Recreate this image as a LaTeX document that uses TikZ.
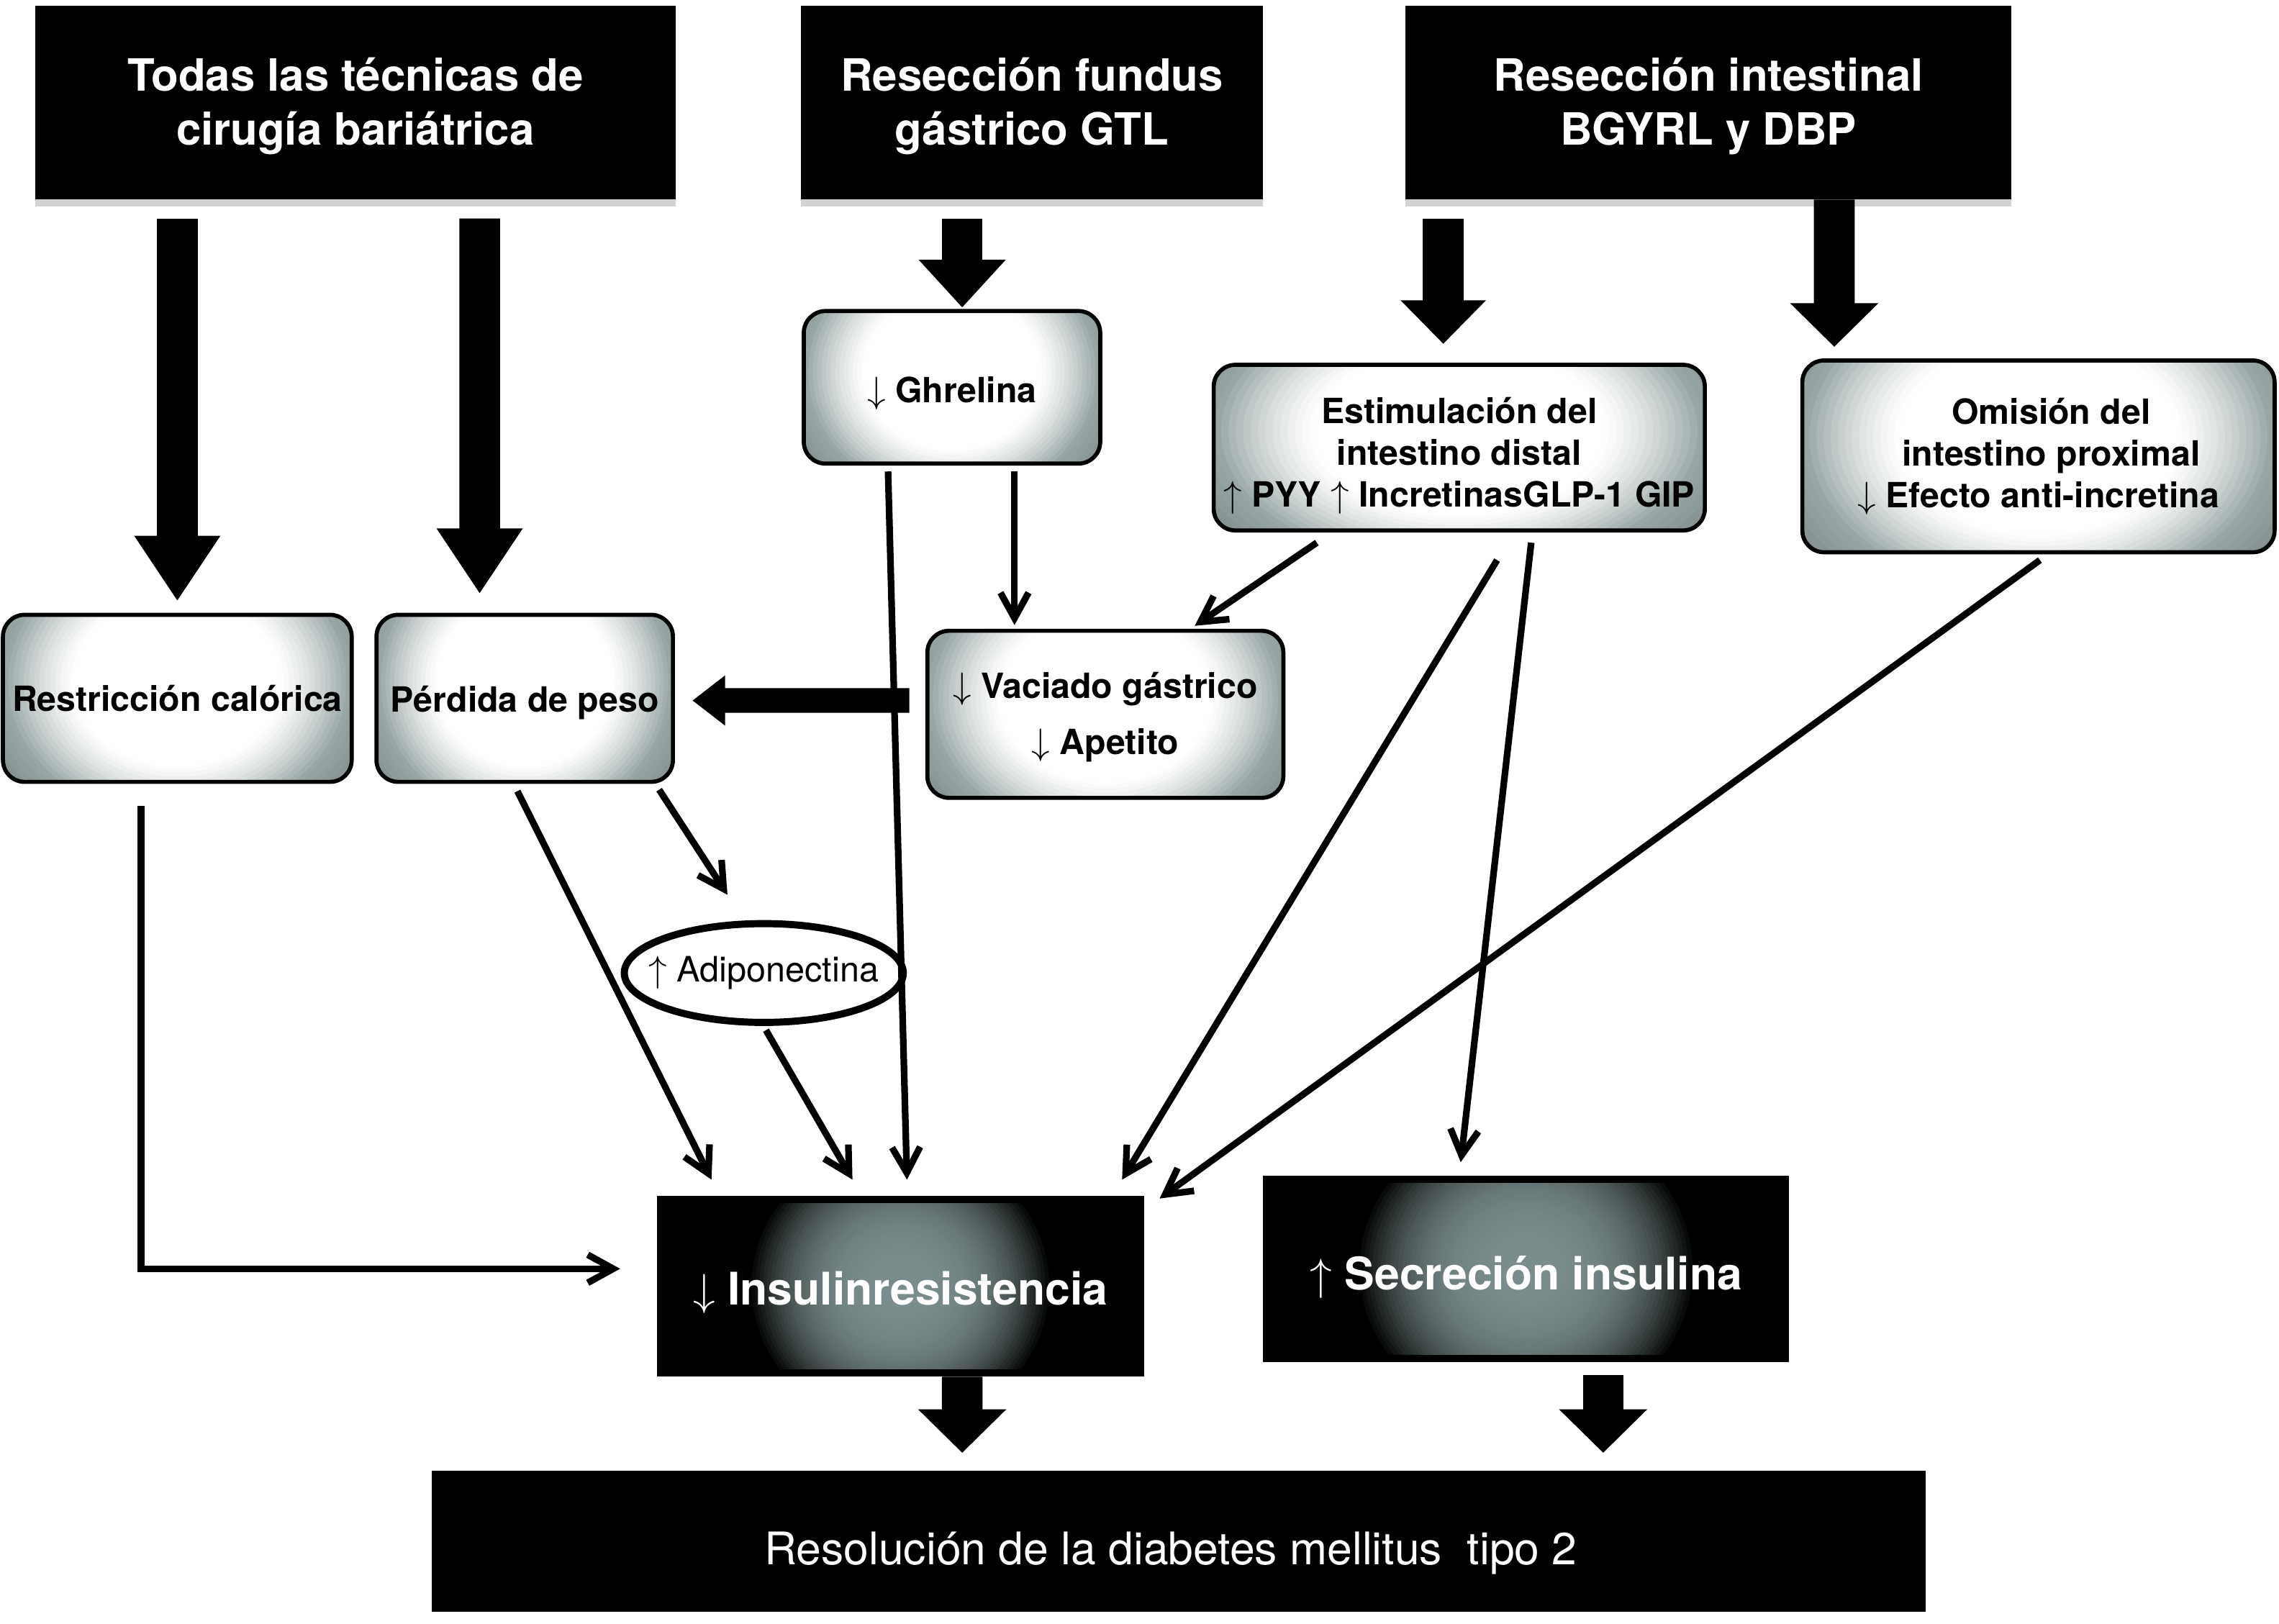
\documentclass[tikz,border=0pt]{standalone}
\usepackage{fontspec}
\setmainfont{TeX Gyre Heros}
\usetikzlibrary{arrows.meta,calc,shadows}
\definecolor{edgeg}{rgb}{0.60,0.65,0.65}
\definecolor{cornerg}{rgb}{0.48,0.53,0.53}
\definecolor{dgray}{rgb}{0.48,0.55,0.55}
\newcommand\hs[1]{\rule{0pt}{#1}}
\newcommand\lightfill[2]{%
  \fill[cornerg] (path picture bounding box.south west) rectangle (path picture bounding box.north east);
  \foreach \r in {1.40,1.36,...,1.01} {\pgfmathsetmacro\q{min(100,max(0,(\r-1)/0.3*100))}%
    \fill[cornerg!\q!edgeg] ([yshift=0.1*#2cm]path picture bounding box.center) ellipse [x radius=\r*#1*0.5cm, y radius=\r*#2*0.85cm];}
  \foreach \r in {1.00,0.97,...,0.56} {\pgfmathsetmacro\p{100*(max(0,(\r-0.6)/0.4))^1.3}%
    \fill[edgeg!\p!white] ([yshift=0.1*#2cm]path picture bounding box.center) ellipse [x radius=\r*#1*0.5cm, y radius=\r*#2*0.85cm];}
}
\newcommand\darkfill[2]{%
  \clip ([yshift=-0.1cm]path picture bounding box.north west) rectangle ([yshift=0.1cm]path picture bounding box.south east);
  \foreach \r in {1.00,0.975,...,0.02} {\pgfmathsetmacro\p{min(100,100*(\r)^3)}%
    \fill[black!\p!dgray] (path picture bounding box.center) ellipse [x radius=\r*#1, y radius=\r*#2];}
}
\tikzset{
  topbox/.style={fill=black, text=white, font=\bfseries\fontsize{17.4}{21}\selectfont, align=center, inner sep=0pt,
    drop shadow={shadow xshift=0pt, shadow yshift=-3pt, opacity=0.35}},
  lightbox/.style 2 args={draw=black, line width=1.6pt, rounded corners=0.3cm, minimum width=#1cm, minimum height=#2cm,
    path picture={\lightfill{#1}{#2}},
    font=\bfseries\fontsize{13.6}{16.3}\selectfont, align=center, inner sep=0pt},
  darkbox/.style 2 args={fill=black, text=white, inner sep=0pt, font=\bfseries\fontsize{17.6}{21}\selectfont,
    path picture={\darkfill{#1}{#2}}},
  thinarr/.style={line width=2.6pt, -{Straight Barb[length=10pt,width=11pt]}},
  bigarr/.style 2 args={line width=0.56cm, -{Triangle[length=#1,width=#2]}}
}
\begin{document}
\begin{tikzpicture}[x=0.02cm, y=-0.02cm]
\useasboundingbox (0,0) rectangle (1568,1117);
\fill[white] (0,0) rectangle (1568,1117);

% top boxes
\node[topbox, minimum width=8.82cm, minimum height=2.66cm] (T1) at (244.5,70.5) {\hs{15.9pt}Todas las técnicas de\\cirugía bariátrica};
\node[topbox, minimum width=6.36cm, minimum height=2.66cm] (T2) at (710,70.5) {\hs{15.9pt}Resección fundus\\gástrico GTL};
\node[topbox, minimum width=8.34cm, minimum height=2.66cm] (T3) at (1175.5,70.5) {\hs{15.9pt}Resección intestinal\\BGYRL y DBP};

% light boxes
\node[lightbox={4.08}{2.10}] (GHR) at (655,266.5) {\hs{14.8pt}$\downarrow$ Ghrelina};
\node[lightbox={6.76}{2.28}] (EST) at (1004,308) {\hs{16.4pt}Estimulación del\\intestino distal\\$\uparrow$ PYY $\uparrow$ IncretinasGLP-1 GIP};
\node[lightbox={6.50}{2.64}] (OM) at (1402.5,314) {\hspace{0.35cm}Omisión del\\\hspace{0.35cm}intestino proximal\\$\downarrow$ Efecto anti-incretina};
\node[lightbox={4.80}{2.30}] (RC) at (122,480.5) {Restricción calórica};
\node[lightbox={4.08}{2.30}] (PP) at (361,480.5) {\hs{13.6pt}Pérdida de peso};
\node[lightbox={4.90}{2.30}, font=\bfseries\fontsize{13.6}{22.2}\selectfont] (VG) at (760.5,491.5) {\hs{12.4pt}$\downarrow$ Vaciado gástrico\\$\downarrow$ Apetito};

% ellipse
\coordinate (adic) at (525.5,669.5);
\draw[line width=2.8pt, fill=white] (adic) ellipse [x radius=1.92cm, y radius=0.68cm];
\node[minimum width=3.9cm, minimum height=1.42cm, inner sep=0pt, font=\fontsize{13.7}{16}\selectfont] (ADI) at (adic) {$\uparrow$ Adiponectina};

% dark boxes
\node[darkbox={2.1cm}{2.0cm}, minimum width=6.70cm, minimum height=2.48cm] (IR) at (619.5,885) {\hs{17.8pt}$\downarrow$ Insulinresistencia};
\node[darkbox={2.35cm}{2.15cm}, minimum width=7.24cm, minimum height=2.56cm] (SI) at (1050,873) {\hs{20pt}$\uparrow$ Secreción insulina};
\node[fill=black, text=white, minimum width=20.56cm, minimum height=1.94cm, inner sep=0pt,
  font=\fontsize{17.6}{21}\selectfont] (RES) at (811,1060.5) {\hs{22.3pt}Resolución de la diabetes mellitus~~tipo 2\hspace*{0.22cm}};

% big arrows
\draw[bigarr={0.9cm}{1.12cm}] ($(T1.south)+(-122.5,13)$) -- ($(RC.north)+(0,-8)$);
\draw[bigarr={0.9cm}{1.12cm}] ($(T1.south)+(85.5,13)$) -- ($(PP.north)+(-31,-13)$);
\draw[bigarr={0.66cm}{1.16cm}] ($(T2.south)+(-48,13)$) -- ($(GHR.north)+(7,-1)$);
\draw[bigarr={0.6cm}{1.14cm}] ($(T3.south)+(-182.5,13)$) -- ($(EST.north)+(-11,-13)$);
\draw[bigarr={0.6cm}{1.18cm}] ($(T3.south)+(86.5,0)$) -- ($(OM.north)+(-140.5,-8)$);
\draw[line width=0.34cm, -{Triangle[length=0.45cm,width=0.66cm]}] ($(VG.west)+(-11,-9.5)$) -- ($(PP.east)+(12,1.5)$);
\draw[bigarr={0.6cm}{1.18cm}] ($(IR.south)+(42.5,0)$) -- ($(RES.north)+(-149,-12)$);
\draw[bigarr={0.6cm}{1.18cm}] ($(SI.south)+(53,9)$) -- ($(RES.north)+(292,-12)$);

% thin arrows
\draw[thinarr] ($(RC.south)+(-25,15)$) |- ($(IR.west)+(-25,-12)$);
\draw[thinarr] ($(PP.south)+(-5,5)$) -- ($(IR.north)+(-130,-11)$);
\draw[thinarr] ($(PP.south)+(92.5,4)$) -- ($(ADI.north)+(-25,-18)$);
\draw[thinarr] ($(ADI.south)+(1.5,3.5)$) -- ($(IR.north)+(-33,-11)$);
\draw[thinarr] ($(GHR.south)+(-44,4)$) -- ($(IR.north)+(4.5,-11)$);
\draw[thinarr] ($(GHR.south)+(43,4)$) -- ($(VG.north)+(-62.5,-2.5)$);
\draw[thinarr] ($(EST.south)+(-98,7)$) -- ($(VG.north)+(61.5,-2)$);
\draw[thinarr] ($(EST.south)+(26,19)$) -- ($(IR.north)+(152.5,-11)$);
\draw[thinarr] ($(EST.south)+(49.5,7)$) -- ($(SI.north)+(-45,-9)$);
\draw[thinarr] ($(OM.south)+(1,4)$) -- ($(IR.north east)+(10.5,2)$);
\end{tikzpicture}
\end{document}
